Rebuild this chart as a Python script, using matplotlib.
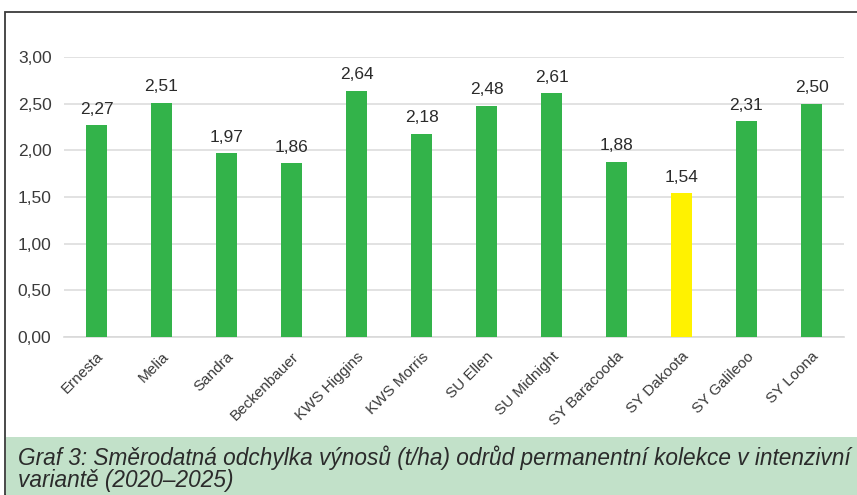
import matplotlib.pyplot as plt
from matplotlib.patches import Rectangle

# Data
varieties = ['Ernesta', 'Melia', 'Sandra', 'Beckenbauer', 'KWS Higgins', 'KWS Morris',
             'SU Ellen', 'SU Midnight', 'SY Baracooda', 'SY Dakoota', 'SY Galileoo', 'SY Loona']
std_dev = [2.27, 2.51, 1.97, 1.86, 2.64, 2.18, 2.48, 2.61, 1.88, 1.54, 2.31, 2.50]
highlight = 'SY Dakoota'
y_ticks = [0, 0.5, 1.0, 1.5, 2.0, 2.5, 3.0]

caption = ('Graf 3: Směrodatná odchylka výnosů (t/ha) odrůd permanentní kolekce v intenzivní\n'
           'variantě (2020–2025)')

plt.rcParams['font.family'] = ['Liberation Sans', 'DejaVu Sans']

green = '#33b34a'
yellow = '#fff200'
text_col = '#2b2b2b'

fig = plt.figure(figsize=(8.57, 4.95), dpi=100)

# outer frame and caption band
fig.patches.append(Rectangle((5 / 857, 0), 1, 1 - 12 / 495, transform=fig.transFigure,
                             fill=False, edgecolor='#3a3a3a', linewidth=1.3))
fig.patches.append(Rectangle((6 / 857, 0), 1, 58 / 495, transform=fig.transFigure,
                             facecolor='#c2e1c9', edgecolor='none'))

ax = fig.add_axes([64 / 857, 1 - 337 / 495, 780 / 857, 280 / 495])

colors = [yellow if v == highlight else green for v in varieties]
x = range(len(varieties))
bars = ax.bar(x, std_dev, width=0.31, color=colors, zorder=3)

for b, v in zip(bars, std_dev):
    ax.annotate(f'{v:.2f}'.replace('.', ','), (b.get_x() + b.get_width() / 2, v),
                xytext=(0, 6), textcoords='offset points', ha='center', va='bottom',
                fontsize=12.5, color=text_col)

ax.set_xlim(-0.5, len(varieties) - 0.5)
ax.set_ylim(0, 3.0)
ax.set_yticks(y_ticks)
ax.set_yticklabels([f'{t:.2f}'.replace('.', ',') for t in y_ticks], fontsize=12.5, color='#3a3a3a')
ax.set_xticks(list(x))
ax.set_xticklabels(varieties, rotation=45, ha='right', rotation_mode='anchor',
                   fontsize=11, color='#3a3a3a')
ax.tick_params(axis='y', length=0, pad=9)
ax.tick_params(axis='x', length=0, pad=9)

ax.grid(axis='y', color='#dddddd', linewidth=1.2, zorder=0)
for s in ['top', 'right', 'left']:
    ax.spines[s].set_visible(False)
ax.spines['bottom'].set_color('#d9d9d9')
ax.spines['bottom'].set_linewidth(1.2)

fig.text(18 / 857, 1 - 445 / 495, caption, fontsize=16.3, style='italic', color=text_col,
         va='top', ha='left', linespacing=0.95)

fig.savefig('out.png', dpi=100)
